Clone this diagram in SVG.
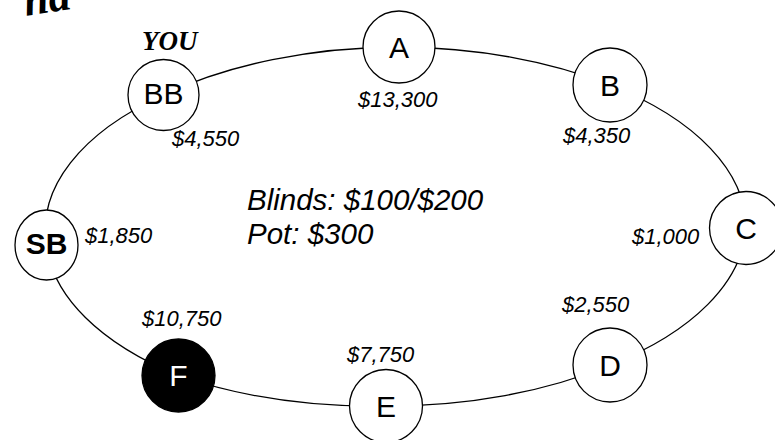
<svg xmlns="http://www.w3.org/2000/svg" width="775" height="440" viewBox="0 0 775 440">
<style>
.node{fill:#fff;stroke:#000;stroke-width:1.3}
.lbl{font-family:"Liberation Sans",Arial,sans-serif;font-size:30px;text-anchor:middle;fill:#000}
.amt{font-family:"Liberation Sans",Arial,sans-serif;font-size:22px;font-style:italic;fill:#000}
.info{font-family:"Liberation Sans",Arial,sans-serif;font-size:29.5px;font-style:italic;fill:#000}
.edge{fill:none;stroke:#000;stroke-width:1.3}
.serif{font-family:"Liberation Serif","Times New Roman",serif;font-weight:bold;font-style:italic;fill:#000}
</style>
<rect width="775" height="440" fill="#fff"/>
<text class="serif" font-size="44" transform="translate(26 16) rotate(-9)">ha</text>
<g id="connectors">
<path class="edge" d="M399 47 A350 180 0 0 1 610 85"/>
<path class="edge" d="M610 85 A350 180 0 0 1 746 228"/>
<path class="edge" d="M746 228 A350 180 0 0 1 610 365"/>
<path class="edge" d="M610 365 A350 180 0 0 1 386 406"/>
<path class="edge" d="M386 406 A350 180 0 0 1 178.5 375.5"/>
<path class="edge" d="M178.5 375.5 A350 180 0 0 1 46.5 245"/>
<path class="edge" d="M46.5 245 A350 180 0 0 1 163.5 95"/>
<path class="edge" d="M163.5 95 A350 180 0 0 1 399 47"/>
</g>
<g id="node-A">
<circle class="node" cx="399" cy="47" r="36"/>
<text class="lbl" x="399" y="58">A</text>
<text class="amt" x="358" y="107">$13,300</text>
</g>
<g id="node-B">
<circle class="node" cx="610" cy="85" r="37"/>
<text class="lbl" x="610" y="96">B</text>
<text class="amt" x="563" y="143">$4,350</text>
</g>
<g id="node-C">
<circle class="node" cx="746" cy="228" r="36.5"/>
<text class="lbl" x="746" y="239">C</text>
<text class="amt" x="632" y="244">$1,000</text>
</g>
<g id="node-D">
<circle class="node" cx="610" cy="365" r="37"/>
<text class="lbl" x="610" y="376">D</text>
<text class="amt" x="562" y="312">$2,550</text>
</g>
<g id="node-E">
<circle class="node" cx="386" cy="406" r="36.5"/>
<text class="lbl" x="386" y="417">E</text>
<text class="amt" x="347" y="362">$7,750</text>
</g>
<g id="node-F">
<circle cx="178.5" cy="375.5" r="36.5" fill="#000" stroke="#000" stroke-width="1.3"/>
<text class="lbl" x="178.5" y="386" style="fill:#fff">F</text>
<text class="amt" x="142" y="326">$10,750</text>
</g>
<g id="node-SB">
<ellipse class="node" cx="46.5" cy="245" rx="31.5" ry="35" stroke-width="1.8"/>
<text class="lbl" x="46.5" y="254" font-size="26" font-weight="bold">SB</text>
<text class="amt" x="85" y="243">$1,850</text>
</g>
<g id="node-BB">
<circle class="node" cx="163.5" cy="95" r="35.5"/>
<text class="lbl" x="163.5" y="104">BB</text>
<text class="amt" x="172" y="146">$4,550</text>
<text class="serif" font-size="27" x="142" y="50">YOU</text>
</g>
<g id="info">
<text class="info" x="247" y="210">Blinds: $100/$200</text>
<text class="info" x="247" y="244">Pot: $300</text>
</g>
</svg>
